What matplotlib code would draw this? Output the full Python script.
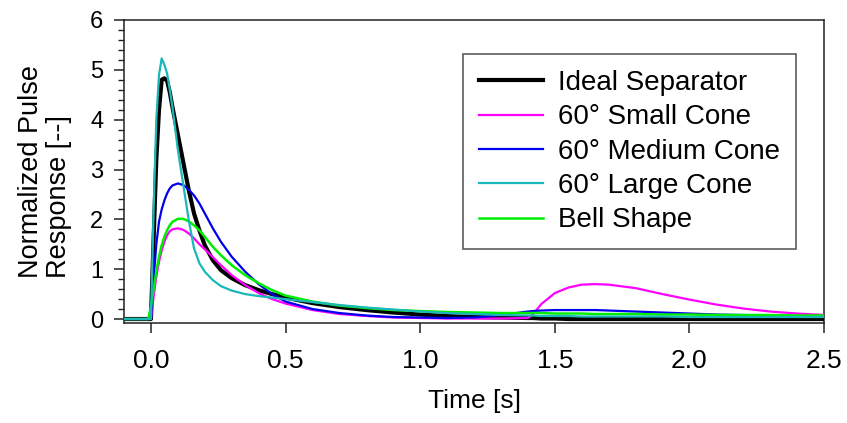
import matplotlib
matplotlib.use("Agg")
import matplotlib.pyplot as plt
from matplotlib.ticker import MultipleLocator

plt.rcParams['font.family'] = ['Liberation Sans', 'DejaVu Sans']

# Shared time grid [s]
time_s = [-0.10, -0.01, 0.00, 0.01, 0.02, 0.03, 0.04, 0.05, 0.06, 0.07, 0.08,
          0.10, 0.12, 0.14, 0.16, 0.18, 0.20, 0.23, 0.26, 0.30, 0.35, 0.40,
          0.45, 0.50, 0.60, 0.70, 0.80, 0.90, 1.00, 1.10, 1.20, 1.30, 1.40,
          1.42, 1.45, 1.50, 1.55, 1.60, 1.65, 1.70, 1.80, 1.90, 2.00, 2.10,
          2.20, 2.30, 2.40, 2.50]

ideal = [0.0, 0.0, 0.0, 1.6, 3.2, 4.2, 4.80, 4.83, 4.78, 4.55, 4.25,
         3.70, 3.15, 2.60, 2.12, 1.78, 1.48, 1.18, 0.98, 0.82, 0.68, 0.58,
         0.50, 0.43, 0.32, 0.24, 0.18, 0.13, 0.09, 0.06, 0.04, 0.03, 0.02,
         0.02, 0.01, 0.01, 0.0, 0.0, 0.0, 0.0, 0.0, 0.0, 0.0, 0.0,
         0.0, 0.0, 0.0, 0.0]

small_cone = [0.0, 0.0, 0.0, 0.45, 0.85, 1.15, 1.38, 1.55, 1.68, 1.76, 1.80,
              1.82, 1.79, 1.72, 1.62, 1.50, 1.40, 1.24, 1.08, 0.88, 0.68, 0.52,
              0.40, 0.31, 0.18, 0.10, 0.06, 0.03, 0.02, 0.01, 0.01, 0.01, 0.02,
              0.10, 0.30, 0.52, 0.63, 0.69, 0.70, 0.69, 0.62, 0.50, 0.39, 0.29,
              0.21, 0.15, 0.11, 0.08]

medium_cone = [0.0, 0.0, 0.0, 0.80, 1.50, 1.95, 2.20, 2.38, 2.52, 2.62, 2.68,
               2.72, 2.69, 2.60, 2.48, 2.32, 2.12, 1.82, 1.55, 1.25, 0.95, 0.70,
               0.50, 0.35, 0.20, 0.12, 0.07, 0.04, 0.03, 0.02, 0.03, 0.08, 0.15,
               0.16, 0.17, 0.18, 0.18, 0.18, 0.18, 0.17, 0.15, 0.13, 0.11, 0.09,
               0.08, 0.07, 0.06, 0.05]

large_cone = [0.0, 0.0, 0.0, 2.2, 4.0, 4.9, 5.23, 5.10, 4.93, 4.60, 4.25,
              3.40, 2.70, 2.00, 1.42, 1.12, 0.95, 0.78, 0.66, 0.57, 0.50, 0.46,
              0.43, 0.40, 0.34, 0.28, 0.23, 0.19, 0.15, 0.12, 0.10, 0.08, 0.07,
              0.07, 0.06, 0.06, 0.06, 0.05, 0.05, 0.05, 0.05, 0.05, 0.04, 0.04,
              0.04, 0.04, 0.04, 0.04]

bell_shape = [0.0, 0.0, 0.25, 0.60, 0.95, 1.25, 1.48, 1.65, 1.78, 1.88, 1.95,
              2.01, 2.01, 1.96, 1.88, 1.78, 1.65, 1.45, 1.28, 1.08, 0.88, 0.72,
              0.58, 0.47, 0.35, 0.27, 0.22, 0.18, 0.16, 0.14, 0.13, 0.12, 0.12,
              0.12, 0.12, 0.11, 0.11, 0.11, 0.10, 0.10, 0.10, 0.09, 0.09, 0.08,
              0.08, 0.08, 0.07, 0.07]

labels = ["Ideal Separator", "60° Small Cone", "60° Medium Cone",
          "60° Large Cone", "Bell Shape"]
x_ticks = [0.0, 0.5, 1.0, 1.5, 2.0, 2.5]
y_ticks = [0, 1, 2, 3, 4, 5, 6]

fig = plt.figure(figsize=(8.47, 4.23), dpi=100)
ax = fig.add_axes([124/847, 1-323/423, 700/847, 303/423])

ax.plot(time_s, ideal, color='black', lw=3.0, label=labels[0], zorder=3)
ax.plot(time_s, small_cone, color='#ff00ff', lw=1.6, label=labels[1], zorder=3)
ax.plot(time_s, medium_cone, color='#0000ee', lw=1.6, label=labels[2], zorder=3)
ax.plot(time_s, large_cone, color='#1ab8b8', lw=1.6, label=labels[3], zorder=4)
ax.plot(time_s, bell_shape, color='#00ee00', lw=1.8, label=labels[4], zorder=3)

ax.set_xlim(-0.1, 2.5)
ax.set_ylim(-0.08, 6)
ax.set_xticks(x_ticks)
ax.set_xticklabels([f"{v:.1f}" for v in x_ticks])
ax.set_yticks(y_ticks)
ax.yaxis.set_minor_locator(MultipleLocator(0.2))

ax.tick_params(axis='x', which='major', direction='out', length=7, width=1.1,
               labelsize=19, pad=11.5, color='#222222')
ax.tick_params(axis='y', which='major', direction='out', length=7, width=1.1,
               labelsize=17, pad=8, color='#222222')
ax.tick_params(axis='y', which='minor', direction='out', length=4.5, width=1.0,
               color='#222222')
for s in ax.spines.values():
    s.set_color('#222222')
    s.set_linewidth(1.1)

ax.set_xlabel("Time [s]", fontsize=19, labelpad=12)
ax.set_ylabel("Normalized Pulse\nResponse [--]", fontsize=19.5, labelpad=13,
              multialignment='left', linespacing=1.1)

leg = ax.legend(loc='upper left', bbox_to_anchor=(0.484, 0.888), fontsize=20,
                frameon=True, fancybox=False, edgecolor='#333333',
                handlelength=2.3, handletextpad=0.55, borderpad=0.58,
                labelspacing=0.3, borderaxespad=0)
leg.get_frame().set_linewidth(1.2)

fig.savefig("out.png", dpi=100)
